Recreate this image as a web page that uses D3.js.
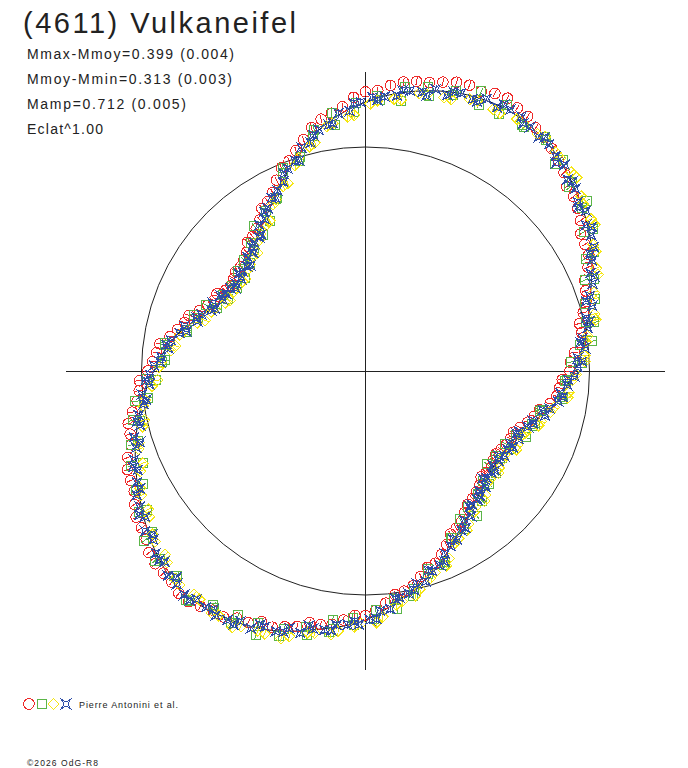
<!DOCTYPE html>
<html>
<head>
<meta charset="utf-8">
<script src="https://cdn.jsdelivr.net/npm/d3@7"></script>
<style>
  body { margin: 0; background: #fff; }
  text { font-family: Arial, "Liberation Sans", sans-serif; fill: #222; }
</style>
</head>
<body>
<div id="lightcurve"></div>
<script>
// header texts
const titleText = "(4611) Vulkaneifel";
const infoLines = ["Mmax-Mmoy=0.399 (0.004)", "Mmoy-Mmin=0.313 (0.003)", "Mamp=0.712 (0.005)", "Eclat^1.00"];
const legendText = "Pierre Antonini et al.";
const creditText = "\u00a92026 OdG-R8";

// fitted curve: [phase in degrees, relative brightness]
const fitCurve = [
  [0,0.933],[10,1.000],[20,1.071],[30,1.161],[40,1.232],[50,1.295],[60,1.326],[70,1.313],[80,1.268],
  [90,1.201],[100,1.107],[110,0.973],[120,0.848],[130,0.759],[140,0.701],[150,0.696],[160,0.759],[170,0.866],
  [180,0.946],[190,1.022],[200,1.094],[210,1.161],[220,1.232],[230,1.281],[240,1.268],[250,1.232],[260,1.170],
  [270,1.112],[280,1.018],[290,0.933],[300,0.830],[310,0.763],[320,0.719],[330,0.714],[340,0.754],[350,0.857]
];

// sessions: [phase in degrees, relative brightness]
const redData = [
  [0,0.913],[5,0.936],[10,0.980],[15,1.006],[20,1.046],[25,1.096],[30,1.131],[35,1.171],[40,1.212],[45,1.253],
  [50,1.295],[55,1.325],[60,1.356],[65,1.367],[70,1.358],[75,1.335],[80,1.313],[85,1.280],[90,1.246],[95,1.184],
  [100,1.142],[105,1.070],[110,0.998],[115,0.940],[120,0.873],[125,0.823],[130,0.784],[135,0.750],[140,0.726],[145,0.718],
  [150,0.721],[155,0.747],[160,0.789],[165,0.837],[170,0.886],[175,0.936],[180,0.971],[185,1.014],[190,1.057],[195,1.088],
  [200,1.129],[205,1.157],[210,1.191],[215,1.221],[220,1.262],[225,1.276],[230,1.296],[235,1.284],[240,1.268],[245,1.240],
  [250,1.217],[255,1.181],[260,1.150],[265,1.116],[270,1.092],[275,1.040],[280,0.998],[285,0.950],[290,0.913],[295,0.856],
  [300,0.810],[305,0.771],[310,0.743],[315,0.721],[320,0.704],[325,0.696],[330,0.699],[335,0.714],[340,0.734],[345,0.780],
  [350,0.837],[355,0.870]
];
const redData2 = [
  [2.5,0.915],[7.5,0.968],[12.5,0.978],[17.5,1.033],[22.5,1.059],[27.5,1.124],[32.5,1.139],[37.5,1.194],[42.5,1.218],[47.5,1.274],
  [52.5,1.313],[57.5,1.348],[62.5,1.373],[67.5,1.351],[72.5,1.352],[77.5,1.319],[82.5,1.301],[87.5,1.253],[92.5,1.223],[97.5,1.161],
  [102.5,1.114],[107.5,1.032],[112.5,0.982],[117.5,0.899],[122.5,0.861],[127.5,0.801],[132.5,0.780],[137.5,0.736],[142.5,0.730],[147.5,0.712],
  [152.5,0.747],[157.5,0.763],[162.5,0.826],[167.5,0.859],[172.5,0.926],[177.5,0.951],[182.5,1.010],[187.5,1.028],[192.5,1.085],[197.5,1.096],
  [202.5,1.151],[207.5,1.164],[212.5,1.214],[217.5,1.234],[222.5,1.274],[227.5,1.279],[232.5,1.298],[237.5,1.266],[242.5,1.244],[247.5,1.211],
  [252.5,1.197],[257.5,1.151],[262.5,1.141],[267.5,1.092],[272.5,1.069],[277.5,1.007],[282.5,0.982],[287.5,0.919],[292.5,0.887],[297.5,0.821],
  [302.5,0.798],[307.5,0.750],[312.5,0.732],[317.5,0.700],[322.5,0.708],[327.5,0.690],[332.5,0.709],[337.5,0.714],[342.5,0.760],[347.5,0.796],
  [352.5,0.861],[357.5,0.879]
];
const greenData = [
  [2,0.966],[7,0.965],[12,1.044],[17,1.025],[22,1.099],[27,1.104],[32,1.200],[37,1.211],[42,1.225],[47,1.291],
  [52,1.306],[57,1.297],[62,1.343],[67,1.292],[72,1.314],[77,1.262],[82,1.280],[87,1.211],[92,1.197],[97,1.105],
  [102,1.100],[107,0.998],[112,0.978],[117,0.866],[122,0.840],[127,0.761],[132,0.767],[137,0.708],[142,0.725],[147,0.682],
  [152,0.719],[157,0.720],[162,0.805],[167,0.819],[172,0.902],[177,0.897],[182,0.976],[187,0.979],[192,1.061],[197,1.062],
  [202,1.127],[207,1.116],[212,1.190],[217,1.191],[222,1.267],[227,1.251],[232,1.298],[237,1.247],[242,1.276],[247,1.223],
  [252,1.245],[257,1.174],[262,1.178],[267,1.104],[272,1.108],[277,1.026],[282,1.026],[287,0.949],[292,0.932],[297,0.836],
  [302,0.832],[307,0.763],[312,0.779],[317,0.717],[322,0.738],[327,0.696],[332,0.737],[337,0.732],[342,0.795],[347,0.801],
  [352,0.887],[357,0.890]
];
const greenData2 = [
  [2.5,0.920],[7.5,1.018],[12.5,1.008],[17.5,1.073],[22.5,1.059],[27.5,1.149],[32.5,1.159],[37.5,1.244],[42.5,1.248],[47.5,1.254],
  [52.5,1.318],[57.5,1.303],[62.5,1.293],[67.5,1.351],[72.5,1.292],[77.5,1.299],[82.5,1.216],[87.5,1.228],[92.5,1.158],[97.5,1.161],
  [102.5,1.074],[107.5,0.982],[112.5,0.957],[117.5,0.864],[122.5,0.796],[127.5,0.816],[132.5,0.735],[137.5,0.736],[142.5,0.680],[147.5,0.707],
  [152.5,0.692],[157.5,0.773],[162.5,0.786],[167.5,0.814],[172.5,0.901],[177.5,0.911],[182.5,0.935],[187.5,1.038],[192.5,1.030],[197.5,1.096],
  [202.5,1.076],[207.5,1.154],[212.5,1.159],[217.5,1.244],[222.5,1.244],[227.5,1.244],[232.5,1.293],[237.5,1.256],[242.5,1.229],[247.5,1.276],
  [252.5,1.207],[257.5,1.206],[262.5,1.121],[267.5,1.137],[272.5,1.069],[277.5,1.072],[282.5,0.997],[287.5,0.929],[292.5,0.922],[297.5,0.841],
  [302.5,0.783],[307.5,0.815],[312.5,0.742],[317.5,0.750],[322.5,0.683],[327.5,0.725],[332.5,0.704],[337.5,0.774],[342.5,0.780],[347.5,0.806],
  [352.5,0.891],[357.5,0.899]
];
const yellowData = [
  [4,0.980],[9,1.003],[14,1.053],[19,1.079],[24,1.127],[29,1.162],[34,1.214],[39,1.240],[44,1.277],[49,1.294],
  [54,1.307],[59,1.313],[64,1.301],[69,1.299],[74,1.270],[79,1.263],[84,1.221],[89,1.193],[94,1.138],[99,1.106],
  [104,1.033],[109,0.971],[114,0.903],[119,0.850],[124,0.787],[129,0.753],[134,0.716],[139,0.692],[144,0.679],[149,0.686],
  [154,0.696],[159,0.738],[164,0.782],[169,0.845],[174,0.873],[179,0.923],[184,0.956],[189,1.004],[194,1.026],[199,1.072],
  [204,1.101],[209,1.144],[214,1.164],[219,1.210],[224,1.232],[229,1.266],[234,1.261],[239,1.274],[244,1.269],[249,1.256],
  [254,1.232],[259,1.191],[264,1.167],[269,1.128],[274,1.099],[279,1.042],[284,1.004],[289,0.952],[294,0.917],[299,0.855],
  [304,0.823],[309,0.780],[314,0.770],[319,0.738],[324,0.737],[329,0.725],[334,0.755],[339,0.765],[344,0.815],[349,0.857],
  [354,0.912],[359,0.940]
];
const yellowData2 = [
  [2.5,0.980],[7.5,0.993],[12.5,1.053],[17.5,1.068],[22.5,1.124],[27.5,1.159],[32.5,1.214],[37.5,1.224],[42.5,1.278],[47.5,1.289],
  [52.5,1.318],[57.5,1.313],[62.5,1.298],[67.5,1.306],[72.5,1.272],[77.5,1.264],[82.5,1.221],[87.5,1.208],[92.5,1.143],[97.5,1.116],
  [102.5,1.044],[107.5,0.997],[112.5,0.907],[117.5,0.864],[122.5,0.796],[127.5,0.771],[132.5,0.715],[137.5,0.701],[142.5,0.675],[147.5,0.687],
  [152.5,0.682],[157.5,0.728],[162.5,0.751],[167.5,0.829],[172.5,0.856],[177.5,0.911],[182.5,0.930],[187.5,0.993],[192.5,1.010],[197.5,1.061],
  [202.5,1.076],[207.5,1.134],[212.5,1.149],[217.5,1.199],[222.5,1.214],[227.5,1.259],[232.5,1.258],[237.5,1.281],[242.5,1.289],[247.5,1.256],
  [252.5,1.252],[257.5,1.196],[262.5,1.186],[267.5,1.142],[272.5,1.124],[277.5,1.052],[282.5,1.027],[287.5,0.969],[292.5,0.942],[297.5,0.866],
  [302.5,0.843],[307.5,0.795],[312.5,0.787],[317.5,0.740],[322.5,0.748],[327.5,0.730],[332.5,0.759],[337.5,0.754],[342.5,0.810],[347.5,0.846],
  [352.5,0.911],[357.5,0.924]
];
const blueData = [
  [1,0.948],[3.5,0.950],[6,0.985],[8.5,0.980],[11,1.010],[13.5,1.013],[16,1.053],[18.5,1.056],[21,1.086],[23.5,1.095],
  [26,1.125],[28.5,1.159],[31,1.176],[33.5,1.180],[36,1.216],[38.5,1.211],[41,1.241],[43.5,1.242],[46,1.280],[48.5,1.282],
  [51,1.304],[53.5,1.298],[56,1.314],[58.5,1.332],[61,1.333],[63.5,1.315],[66,1.330],[68.5,1.305],[71,1.312],[73.5,1.285],
  [76,1.296],[78.5,1.271],[81,1.267],[83.5,1.237],[86,1.228],[88.5,1.222],[91,1.200],[93.5,1.162],[96,1.157],[98.5,1.111],
  [101,1.097],[103.5,1.048],[106,1.037],[108.5,0.989],[111,0.967],[113.5,0.921],[116,0.898],[118.5,0.878],[121,0.847],[123.5,0.811],
  [126,0.807],[128.5,0.762],[131,0.756],[133.5,0.727],[136,0.734],[138.5,0.706],[141,0.707],[143.5,0.691],[146,0.698],[148.5,0.708],
  [151,0.710],[153.5,0.712],[156,0.746],[158.5,0.740],[161,0.773],[163.5,0.784],[166,0.833],[168.5,0.846],[171,0.880],[173.5,0.886],
  [176,0.914],[178.5,0.945],[181,0.962],[183.5,0.967],[186,1.004],[188.5,1.001],[191,1.032],[193.5,1.035],[196,1.075],[198.5,1.079],
  [201,1.107],[203.5,1.109],[206,1.134],[208.5,1.162],[211,1.176],[213.5,1.180],[216,1.216],[218.5,1.211],[221,1.240],[223.5,1.237],
  [226,1.271],[228.5,1.270],[231,1.286],[233.5,1.268],[236,1.273],[238.5,1.281],[241,1.272],[243.5,1.249],[246,1.258],[248.5,1.227],
  [251,1.229],[253.5,1.198],[256,1.205],[258.5,1.175],[261,1.170],[263.5,1.142],[266,1.135],[268.5,1.132],[271,1.111],[273.5,1.073],
  [276,1.068],[278.5,1.022],[281,1.013],[283.5,0.976],[286,0.977],[288.5,0.942],[291,0.929],[293.5,0.889],[296,0.871],[298.5,0.856],
  [301,0.831],[303.5,0.801],[306,0.802],[308.5,0.763],[311,0.762],[313.5,0.736],[316,0.747],[318.5,0.722],[321,0.725],[323.5,0.709],
  [326,0.716],[328.5,0.726],[331,0.726],[333.5,0.722],[336,0.750],[338.5,0.738],[341,0.767],[343.5,0.778],[346,0.826],[348.5,0.838],
  [351,0.871],[353.5,0.876],[356,0.903],[358.5,0.933]
];
const blueData2 = [
  [2.5,0.968],[7.5,0.968],[12.5,1.023],[17.5,1.033],[22.5,1.106],[27.5,1.131],[32.5,1.197],[37.5,1.199],[42.5,1.253],[47.5,1.259],
  [52.5,1.315],[57.5,1.310],[62.5,1.341],[67.5,1.301],[72.5,1.307],[77.5,1.259],[82.5,1.263],[87.5,1.210],[92.5,1.196],[97.5,1.116],
  [102.5,1.079],[107.5,0.987],[112.5,0.954],[117.5,0.871],[122.5,0.844],[127.5,0.766],[132.5,0.750],[137.5,0.696],[142.5,0.712],[147.5,0.689],
  [152.5,0.730],[157.5,0.728],[162.5,0.791],[167.5,0.819],[172.5,0.898],[177.5,0.918],[182.5,0.983],[187.5,0.988],[192.5,1.045],[197.5,1.056],
  [202.5,1.123],[207.5,1.136],[212.5,1.197],[217.5,1.199],[222.5,1.249],[227.5,1.249],[232.5,1.290],[237.5,1.263],[242.5,1.277],[247.5,1.226],
  [252.5,1.222],[257.5,1.166],[262.5,1.168],[267.5,1.119],[272.5,1.107],[277.5,1.027],[282.5,1.002],[287.5,0.934],[292.5,0.919],[297.5,0.848],
  [302.5,0.831],[307.5,0.765],[312.5,0.757],[317.5,0.710],[322.5,0.730],[327.5,0.707],[332.5,0.742],[337.5,0.729],[342.5,0.785],[347.5,0.811],
  [352.5,0.888],[357.5,0.906]
];

// set svg parameters
const width = 688,
      height = 768;
const cx = 365.5,
      cy = 371;
const svg = d3.select("#lightcurve")
  .append("svg")
    .attr("width", width)
    .attr("height", height);

// scales: brightness -> radius, phase -> angle (0 on the right, counter clockwise)
const rScale = d3.scaleLinear().domain([0, 1]).range([0, 224]);
const aScale = d3.scaleLinear().domain([0, 360]).range([Math.PI / 2, Math.PI / 2 - 2 * Math.PI]);
const axisMax = 1.335;

const plot = svg.append("g").attr("transform", `translate(${cx},${cy})`);

// axes
plot.append("line")
  .attr("x1", -rScale(axisMax)).attr("x2", rScale(axisMax))
  .attr("y1", 0).attr("y2", 0)
  .attr("stroke", "#222").attr("shape-rendering", "crispEdges");
plot.append("line")
  .attr("x1", 0).attr("x2", 0)
  .attr("y1", -rScale(axisMax)).attr("y2", rScale(axisMax))
  .attr("stroke", "#222").attr("shape-rendering", "crispEdges");

// mean brightness circle
plot.append("circle")
  .attr("r", rScale(1))
  .attr("fill", "none")
  .attr("stroke", "#222");

// fitted curve
const radialLine = d3.lineRadial()
  .angle(d => aScale(d[0]))
  .radius(d => rScale(d[1]))
  .curve(d3.curveCardinalClosed);
plot.append("path")
  .attr("d", radialLine(fitCurve))
  .attr("fill", "none")
  .attr("stroke", "#111")
  .attr("stroke-width", 1);

// marker shapes
const starPath = "M-4.5,-4.5L0,-2L4.5,-4.5L2,0L4.5,4.5L0,2L-4.5,4.5L-2,0Z";
const shapes = {
  circle: g => g.append("circle").attr("r", 5.3),
  square: g => g.append("rect").attr("x", -4.5).attr("y", -4.5).attr("width", 9).attr("height", 9),
  diamond: g => g.append("path").attr("d", "M0,-5.5L5.5,0L0,5.5L-5.5,0Z"),
  star: g => g.append("path").attr("d", starPath)
};

const sessions = [
  {data: redData.concat(redData2), color: "#ee2a2a", shape: "circle"},
  {data: greenData.concat(greenData2), color: "#5bb548", shape: "square"},
  {data: yellowData.concat(yellowData2), color: "#f5e614", shape: "diamond"},
  {data: blueData.concat(blueData2), color: "#2f4ea8", shape: "star"}
];

sessions.forEach(function(s) {
  const grp = plot.append("g")
    .attr("fill", "none")
    .attr("stroke", s.color)
    .attr("stroke-width", 1)
    .attr("shape-rendering", "crispEdges");

  const pts = grp.selectAll("g")
    .data(s.data)
    .join("g")
    .attr("transform", d => {
      const p = d3.pointRadial(aScale(d[0]), rScale(d[1]));
      return `translate(${p[0]},${p[1]})`;
    });

  // radial error bars
  pts.append("line")
    .attr("x1", d => d3.pointRadial(aScale(d[0]), -4)[0])
    .attr("y1", d => d3.pointRadial(aScale(d[0]), -4)[1])
    .attr("x2", d => d3.pointRadial(aScale(d[0]), 4)[0])
    .attr("y2", d => d3.pointRadial(aScale(d[0]), 4)[1]);

  pts.each(function() { shapes[s.shape](d3.select(this)); });
});

// titles
svg.append("text")
  .attr("x", 23).attr("y", 33)
  .attr("font-size", 29)
  .attr("textLength", 273).attr("lengthAdjust", "spacing")
  .text(titleText);

const infoWidths = [207, 205, 159, 76];
svg.selectAll(".info")
  .data(infoLines)
  .join("text")
    .attr("class", "info")
    .attr("x", 27)
    .attr("y", (d, i) => 59 + i * 25)
    .attr("font-size", 14)
    .attr("textLength", (d, i) => infoWidths[i]).attr("lengthAdjust", "spacing")
    .text(d => d);

// legend
const legend = svg.append("g").attr("transform", "translate(0,704)");
const legendX = [29, 41.5, 53.5, 66];
sessions.forEach(function(s, i) {
  const g = legend.append("g")
    .attr("transform", `translate(${legendX[i]},0)`)
    .attr("fill", "none")
    .attr("stroke", s.color)
    .attr("shape-rendering", "crispEdges");
  shapes[s.shape](g);
});
legend.append("text")
  .attr("x", 79).attr("y", 4)
  .attr("font-size", 9)
  .attr("textLength", 99).attr("lengthAdjust", "spacing")
  .text(legendText);

svg.append("text")
  .attr("x", 27).attr("y", 766)
  .attr("font-size", 8.5)
  .attr("textLength", 71).attr("lengthAdjust", "spacing")
  .text(creditText);
</script>
</body>
</html>
